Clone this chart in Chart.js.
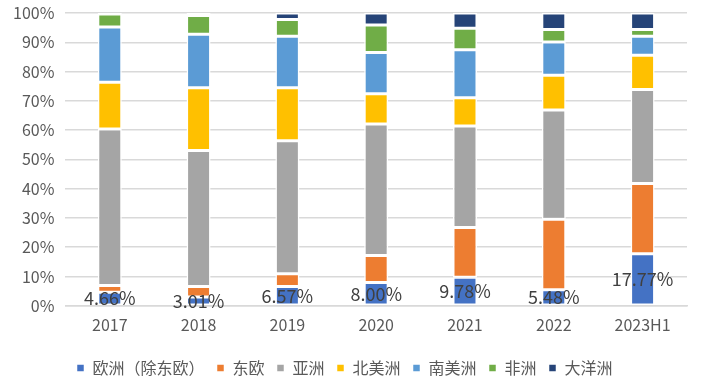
<!DOCTYPE html>
<html><head><meta charset="utf-8">
<script src="https://cdn.jsdelivr.net/npm/chart.js@4"></script>
<style>html,body{margin:0;padding:0;background:#fff}#w{width:705px;height:381px}</style>
</head><body><div id="w"><canvas id="c"></canvas></div>
<script>
const categories = ["2017","2018","2019","2020","2021","2022","2023H1"];
const europeExEast = [4.66, 3.01, 6.57, 8.00, 9.78, 5.48, 17.77];
const easternEurope = [2.3, 3.6, 4.4, 9.2, 17.0, 24.1, 24.0];
const asia = [53.4, 46.4, 45.4, 44.9, 34.6, 37.3, 32.1];
const northAmerica = [16.0, 21.5, 18.1, 10.3, 9.7, 11.9, 11.7];
const southAmerica = [18.9, 18.2, 17.6, 14.1, 16.4, 11.3, 6.5];
const africa = [4.4, 6.4, 5.7, 9.4, 7.3, 4.3, 2.3];
const oceania = [0.3, 0.9, 2.2, 4.1, 5.2, 5.6, 5.6];
const seriesNames = ["欧洲（除东欧）","东欧","亚洲","北美洲","南美洲","非洲","大洋洲"];
const yTicks = [0,10,20,30,40,50,60,70,80,90,100];

const colors = ["#4472C4","#ED7D31","#A5A5A5","#FFC000","#5B9BD5","#70AD47","#264478"];
const allSeries = [europeExEast, easternEurope, asia, northAmerica, southAmerica, africa, oceania];
const FONT = "'Noto Sans CJK SC', 'Noto Sans', sans-serif";

const labelPlugin = {
  id: 'lbl',
  afterDatasetsDraw(chart) {
    const ctx = chart.ctx;
    const meta = chart.getDatasetMeta(0);
    ctx.save();
    ctx.font = "18px " + FONT;
    ctx.fillStyle = "#404040";
    ctx.textAlign = "center";
    ctx.textBaseline = "middle";
    meta.data.forEach((el, i) => {
      ctx.fillText(europeExEast[i].toFixed(2) + "%", el.x, (el.y + el.base) / 2);
    });
    ctx.restore();
  }
};

new Chart(document.getElementById('c'), {
  type: 'bar',
  data: {
    labels: categories,
    datasets: allSeries.map((d, i) => ({
      label: seriesNames[i],
      data: d,
      backgroundColor: colors[i],
      borderColor: "#ffffff",
      borderWidth: 1.5,
      borderSkipped: false,
      categoryPercentage: 1,
      barPercentage: 0.27
    }))
  },
  options: {
    responsive: true,
    maintainAspectRatio: false,
    animation: false,
    layout: { padding: { left: 2, right: 18, top: 13, bottom: -5 } },
    plugins: {
      legend: {
        position: 'bottom',
        labels: {
          font: { size: 16, family: FONT },
          color: "#595959",
          boxWidth: 8, boxHeight: 8,
          padding: 12
        }
      },
      tooltip: { enabled: false }
    },
    scales: {
      x: {
        stacked: true,
        grid: { display: false },
        border: { color: "#D9D9D9", width: 1.5 },
        ticks: { font: { size: 16, family: FONT }, color: "#595959", padding: 2 },
        afterFit(scale) { scale.height += 11; }
      },
      y: {
        stacked: true,
        min: 0, max: 100,
        afterBuildTicks(axis) { axis.ticks = yTicks.map(v => ({ value: v })); },
        grid: { color: "#D9D9D9", lineWidth: 1.5, drawTicks: false },
        border: { display: false },
        ticks: { font: { size: 16, family: FONT, lineHeight: '2px' }, color: "#595959", padding: 11,
                 callback: v => v + "%" }
      }
    }
  },
  plugins: [labelPlugin]
});
</script></body></html>
